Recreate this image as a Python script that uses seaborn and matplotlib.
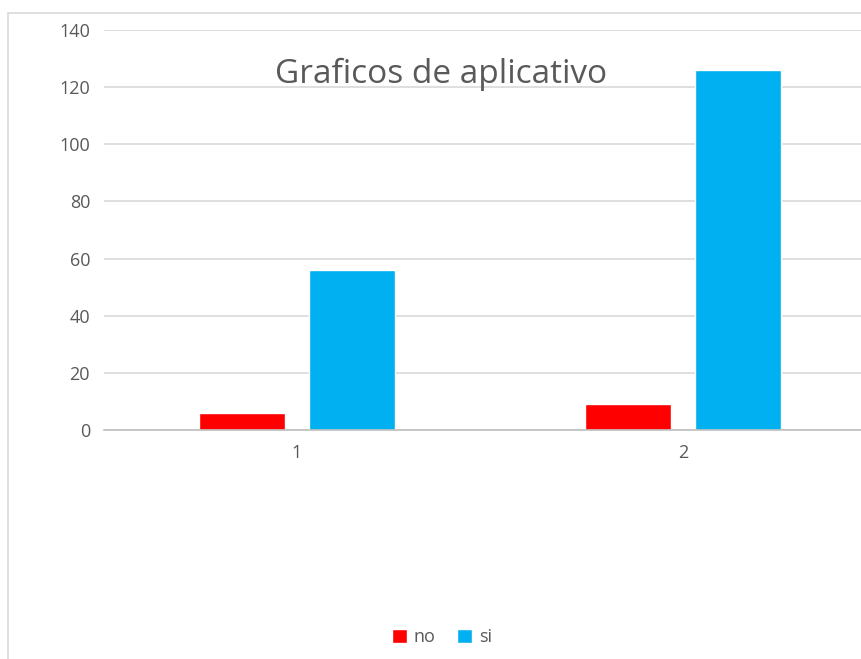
import matplotlib
matplotlib.use("Agg")
import matplotlib.pyplot as plt
from matplotlib.patches import Rectangle
import pandas as pd
import seaborn as sns

# Survey answers per question
categories = ["1", "2"]
no_counts = [6, 9]
si_counts = [56, 126]
series_names = ["no", "si"]
y_ticks = [0, 20, 40, 60, 80, 100, 120, 140]
title = "Graficos de aplicativo"

df = pd.DataFrame({
    "pregunta": categories * 2,
    "respuesta": ["no"] * len(categories) + ["si"] * len(categories),
    "valor": no_counts + si_counts,
})

sns.set_theme(style="white")
plt.rcParams["font.family"] = ["Open Sans", "DejaVu Sans"]

W, H = 861, 659
fig = plt.figure(figsize=(W / 100, H / 100), dpi=100)
fig.patch.set_facecolor("white")

# chart area frame (light gray), partly running off the canvas
fig.add_artist(Rectangle((8 / W, -0.1), 1.2, (1 - 13 / H) + 0.1,
                         transform=fig.transFigure, fill=False,
                         edgecolor="#d9d9d9", linewidth=1.2))

left, right = 104 / W, 876 / W
bottom, top = 1 - 430 / H, 1 - 30 / H
ax = fig.add_axes([left, bottom, right - left, top - bottom])

palette = {"no": "#FF0000", "si": "#00B0F0"}
sns.barplot(data=df, x="pregunta", y="valor", hue="respuesta",
            hue_order=series_names, order=categories, palette=palette,
            width=0.567, gap=0.215, saturation=1, ax=ax, errorbar=None)

ax.set_xlim(-0.5, 1.5)
ax.set_ylim(0, 140)
ax.set_yticks(y_ticks)
ax.yaxis.grid(True, color="#d9d9d9", linewidth=1.2)
ax.set_axisbelow(True)
for side in ["top", "right", "left"]:
    ax.spines[side].set_visible(False)
ax.spines["bottom"].set_color("#bfbfbf")
ax.spines["bottom"].set_linewidth(1.2)
ax.set_xlabel("")
ax.set_ylabel("")
ax.tick_params(axis="both", length=0, labelsize=13, colors="#595959", pad=10)
ax.set_facecolor("white")
ax.patch.set_alpha(0)

ax.text(441 / W, 1 - 74 / H, title, transform=fig.transFigure,
        ha="center", va="center", fontsize=24, color="#595959")

handles, labels = ax.get_legend_handles_labels()
if ax.get_legend() is not None:
    ax.get_legend().remove()
fig.legend(handles, labels, loc="center", bbox_to_anchor=(442 / W, 1 - 637 / H),
           ncol=2, frameon=False, fontsize=13, handlelength=0.8,
           handleheight=0.8, handletextpad=0.4, columnspacing=1.2,
           labelcolor="#595959")

fig.savefig("out.png", dpi=100, facecolor="white")
